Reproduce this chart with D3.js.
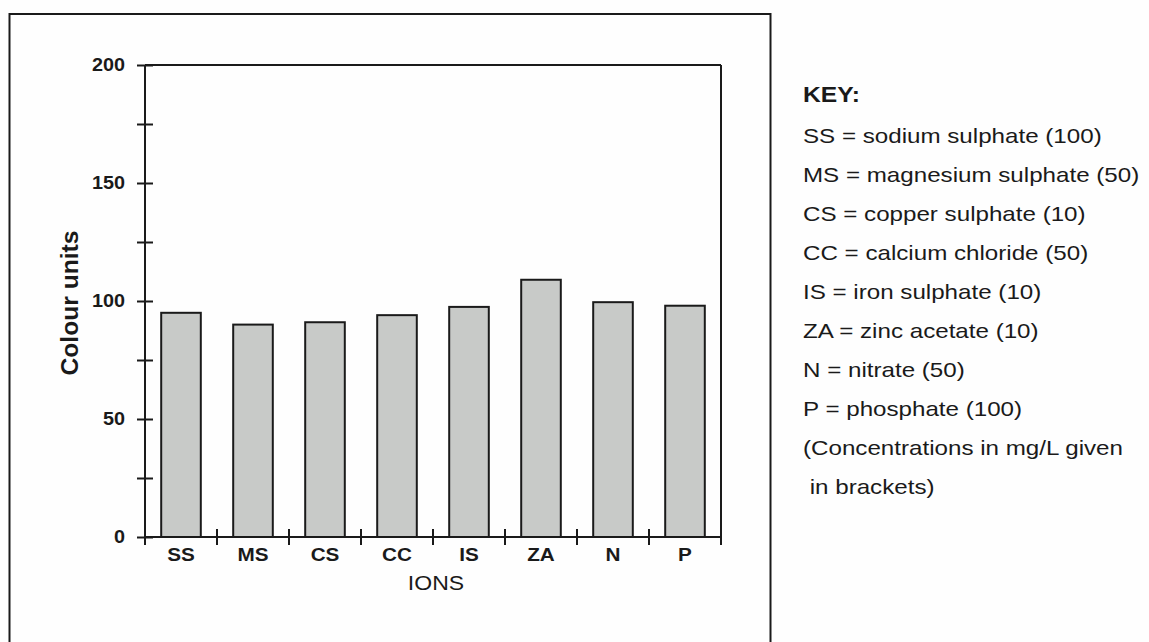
<!DOCTYPE html>
<html>
<head>
<meta charset="utf-8">
<script src="https://cdn.jsdelivr.net/npm/d3@7"></script>
<style>
  html, body { margin: 0; padding: 0; background: #fefefe; }
  svg { display: block; }
  text { font-family: "Liberation Sans", Arial, sans-serif; fill: #1a1a1a; }
</style>
</head>
<body>
<svg id="chart" width="1149" height="642"></svg>
<script>
// Ion categories and measured colour units
const ions = ["SS", "MS", "CS", "CC", "IS", "ZA", "N", "P"];
const colourUnits = [95, 90, 91, 94, 97.5, 109, 99.5, 98];
const majorTicks = [0, 50, 100, 150, 200];
const minorTicks = [25, 75, 125, 175];
const keyTitle = "KEY:";
const keyLines = [
  "SS = sodium sulphate (100)",
  "MS = magnesium sulphate (50)",
  "CS = copper sulphate (10)",
  "CC = calcium chloride (50)",
  "IS = iron sulphate (10)",
  "ZA = zinc acetate (10)",
  "N = nitrate (50)",
  "P = phosphate (100)",
  "(Concentrations in mg/L given",
  " in brackets)"
];

const svg = d3.select("#chart");
const ink = "#1a1a1a";

// the typeface used here runs wider than Arial; stretch glyphs horizontally
function widen(sel, sx) {
  sel.each(function () {
    const w = this.getComputedTextLength();
    d3.select(this).attr("textLength", w * sx).attr("lengthAdjust", "spacingAndGlyphs");
  });
}

// outer frame around the chart
svg.append("rect")
  .attr("x", 9.5).attr("y", 14).attr("width", 761).attr("height", 660)
  .attr("fill", "none").attr("stroke", ink).attr("stroke-width", 2);

const plot = { left: 145, right: 721, top: 65, bottom: 537 };

const x = d3.scaleBand().domain(ions).range([plot.left, plot.right]).paddingInner(0.45).paddingOuter(0.225);
const y = d3.scaleLinear().domain([0, 200]).range([plot.bottom, plot.top]);

// bars
svg.append("g").selectAll("rect")
  .data(ions)
  .join("rect")
  .attr("x", d => x(d))
  .attr("width", x.bandwidth())
  .attr("y", (d, i) => y(colourUnits[i]))
  .attr("height", (d, i) => y(0) - y(colourUnits[i]))
  .attr("fill", "#c8cac8")
  .attr("stroke", ink)
  .attr("stroke-width", 2);

// top and right plot borders
svg.append("line")
  .attr("x1", plot.left).attr("x2", plot.right)
  .attr("y1", y(200)).attr("y2", y(200))
  .attr("stroke", ink).attr("stroke-width", 2);
svg.append("line")
  .attr("x1", plot.right).attr("x2", plot.right)
  .attr("y1", y(200)).attr("y2", y(0) + 8)
  .attr("stroke", ink).attr("stroke-width", 2);

// y axis with crossing ticks
const yAxis = svg.append("g")
  .attr("transform", `translate(${plot.left},0)`)
  .call(d3.axisLeft(y).tickValues(majorTicks).tickSize(8).tickPadding(12));
yAxis.select(".domain").remove();
yAxis.selectAll(".tick line").attr("x2", -8).attr("x1", 8).attr("stroke", ink).attr("stroke-width", 2);
yAxis.selectAll(".tick text")
  .attr("x", -20)
  .attr("font-size", 18).attr("font-weight", "bold")
  .attr("font-family", "Liberation Sans, Arial, sans-serif").attr("fill", ink)
  .call(widen, 1.1);

const yMinor = svg.append("g")
  .attr("transform", `translate(${plot.left},0)`)
  .call(d3.axisLeft(y).tickValues(minorTicks).tickSize(8).tickFormat(""));
yMinor.select(".domain").remove();
yMinor.selectAll(".tick line").attr("x2", -8).attr("x1", 8).attr("stroke", ink).attr("stroke-width", 2);

svg.append("line")
  .attr("x1", plot.left).attr("x2", plot.left)
  .attr("y1", y(200)).attr("y2", y(0) + 8)
  .attr("stroke", ink).attr("stroke-width", 2);

// x axis: labels at band centres, ticks at band boundaries
const xAxis = svg.append("g")
  .attr("transform", `translate(0,${y(0)})`)
  .call(d3.axisBottom(x).tickSize(0).tickPadding(11));
xAxis.select(".domain").remove();
xAxis.selectAll(".tick text")
  .attr("font-size", 18).attr("font-weight", "bold")
  .attr("font-family", "Liberation Sans, Arial, sans-serif").attr("fill", ink)
  .call(widen, 1.15);

svg.append("line")
  .attr("x1", plot.left).attr("x2", plot.right)
  .attr("y1", y(0)).attr("y2", y(0))
  .attr("stroke", ink).attr("stroke-width", 2);

svg.append("g").selectAll("line")
  .data(ions.slice(1))
  .join("line")
  .attr("x1", d => x(d) - x.step() * x.paddingInner() / 2)
  .attr("x2", d => x(d) - x.step() * x.paddingInner() / 2)
  .attr("y1", y(0) - 8).attr("y2", y(0) + 8)
  .attr("stroke", ink).attr("stroke-width", 2);

// axis titles
svg.append("text")
  .attr("x", 436).attr("y", 590)
  .attr("text-anchor", "middle")
  .attr("font-size", 20)
  .text("IONS")
  .call(widen, 1.15);

svg.append("text")
  .attr("transform", "translate(78,303) rotate(-90)")
  .attr("text-anchor", "middle")
  .attr("font-size", 23).attr("font-weight", "bold")
  .text("Colour units")
  .call(widen, 1.07);

// key
const key = svg.append("g").attr("transform", "translate(803,0)");
key.append("text")
  .attr("y", 102)
  .attr("font-size", 22).attr("font-weight", "bold")
  .text(keyTitle)
  .call(widen, 1.12);
key.selectAll("text.line")
  .data(keyLines)
  .join("text")
  .attr("class", "line")
  .attr("y", (d, i) => 143 + i * 39)
  .attr("font-size", 21)
  .attr("xml:space", "preserve")
  .style("white-space", "pre")
  .text(d => d)
  .call(widen, 1.15);
</script>
</body>
</html>
